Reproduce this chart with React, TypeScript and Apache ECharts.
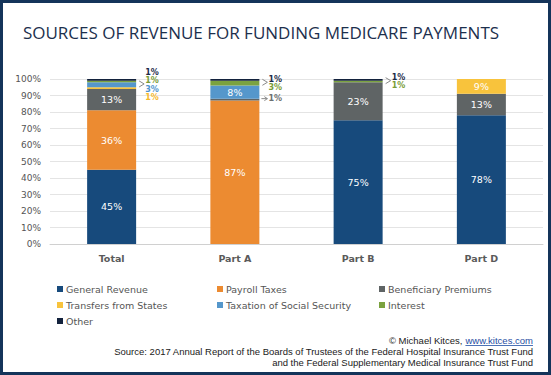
import React, { useEffect, useRef } from 'react';
import * as echarts from 'echarts';

const categories = ['Total', 'Part A', 'Part B', 'Part D'];
const seriesNames = [
  'General Revenue',
  'Payroll Taxes',
  'Beneficiary Premiums',
  'Transfers from States',
  'Taxation of Social Security',
  'Interest',
  'Other',
];
const generalRevenue = [45, 0, 75, 78];
const payrollTaxes = [36, 87, 0, 0];
const beneficiaryPremiums = [13, 1, 23, 13];
const transfersFromStates = [1, 0, 0, 9];
const taxationOfSocialSecurity = [3, 8, 0, 0];
const interest = [1, 3, 1, 0];
const other = [1, 1, 1, 0];
const seriesValues = [
  generalRevenue,
  payrollTaxes,
  beneficiaryPremiums,
  transfersFromStates,
  taxationOfSocialSecurity,
  interest,
  other,
];
const seriesColors = ['#174a7c', '#ec8b31', '#5f6465', '#f8c33c', '#5597cb', '#7ba23f', '#13223d'];
const calloutColors = ['#174a7c', '#ec8b31', '#6b6f70', '#f5b82a', '#4f95d0', '#7a9c36', '#1b2a48'];

const titleText = 'SOURCES OF REVENUE FOR FUNDING MEDICARE PAYMENTS';
const creditText = '© Michael Kitces,';
const creditLink = 'www.kitces.com';
const sourceLine1 = 'Source: 2017 Annual Report of the Boards of Trustees of the Federal Hospital Insurance Trust Fund';
const sourceLine2 = 'and the Federal Supplementary Medical Insurance Trust Fund';

const FONT = "'Open Sans', 'DejaVu Sans', sans-serif";
const WIDE = "'DejaVu Sans', 'Open Sans', sans-serif";
const FOOT = "'Liberation Sans', Arial, sans-serif";
const BAR_W = 49;
const SMALL = 5;

function measure(text: string, font: string): number {
  const c = document.createElement('canvas').getContext('2d');
  if (!c) return text.length * 5;
  c.font = font;
  return c.measureText(text).width;
}

export default function App() {
  const ref = useRef<HTMLDivElement>(null);
  useEffect(() => {
    if (!ref.current) return;
    const chart = echarts.init(ref.current, undefined, { renderer: 'svg' });
    const series = seriesNames.map((name, si) => ({
      name,
      type: 'bar',
      stack: 'all',
      barWidth: BAR_W,
      data: seriesValues[si],
      itemStyle: { color: seriesColors[si] },
      label: {
        show: true,
        position: 'inside',
        color: '#ffffff',
        fontFamily: WIDE,
        fontSize: 9.5,
        formatter: (p: any) => (p.value >= SMALL ? `${p.value}%` : ''),
      },
    }));
    const legendCols = [
      [seriesNames[0], seriesNames[3], seriesNames[6]],
      [seriesNames[1], seriesNames[4]],
      [seriesNames[2], seriesNames[5]],
    ];
    const legendLefts = [57, 217, 379];
    chart.setOption({
      animation: false,
      grid: { left: 50, right: 8, top: 79, bottom: 131 },
      xAxis: {
        type: 'category',
        data: categories,
        axisLine: { lineStyle: { color: '#d0d0d0' } },
        axisTick: { show: false },
        axisLabel: { color: '#5a5a5a', fontFamily: WIDE, fontWeight: 'bold', fontSize: 9.5, margin: 9 },
      },
      yAxis: {
        type: 'value',
        min: 0,
        max: 100,
        interval: 10,
        axisLabel: { color: '#555', fontFamily: WIDE, fontSize: 9, margin: 9, formatter: '{value}%' },
        splitLine: { lineStyle: { color: '#e4e4e4' } },
        axisLine: { show: false },
        axisTick: { show: false },
      },
      legend: legendCols.map((col, i) => ({
        data: col,
        left: legendLefts[i],
        top: 283,
        orient: 'vertical',
        padding: 0,
        itemGap: 4,
        itemWidth: 6,
        itemHeight: 6,
        icon: 'rect',
        selectedMode: false,
        textStyle: { color: '#555', fontFamily: WIDE, fontSize: 9.5, lineHeight: 12, padding: [0, 0, 0, -2] },
      })),
      series,
    });

    // Build callouts for small segments from data through the axes
    const g: any[] = [];
    categories.forEach((cat, ci) => {
      const segs: { si: number; lo: number; hi: number }[] = [];
      let cum = 0;
      seriesValues.forEach((vals, si) => {
        const v = vals[ci];
        if (v > 0) segs.push({ si, lo: cum, hi: cum + v });
        cum += v;
      });
      segs.reverse(); // top-down
      const groups: { si: number; lo: number; hi: number }[][] = [];
      let cur: any[] = [];
      segs.forEach((s) => {
        if (seriesValues[s.si][ci] < SMALL) cur.push(s);
        else {
          if (cur.length) groups.push(cur);
          cur = [];
        }
      });
      if (cur.length) groups.push(cur);
      groups.forEach((grp) => {
        const isTop = grp[0].hi === segs[0].hi;
        const mid = (grp[0].hi + grp[grp.length - 1].lo) / 2;
        const [cx, cy] = chart.convertToPixel({ gridIndex: 0 }, [ci, mid]) as number[];
        const right = cx + BAR_W / 2;
        const lineH = 8.5;
        const startY = cy - ((grp.length - 1) * lineH) / 2 + (isTop ? 1 : -1);
        grp.forEach((s, k) => {
          g.push({
            type: 'text',
            x: right + 9,
            y: startY + k * lineH,
            style: {
              text: `${seriesValues[s.si][ci]}%`,
              fill: calloutColors[s.si],
              font: `600 8px ${WIDE}`,
              textVerticalAlign: 'middle',
            },
          });
        });
        if (isTop) {
          g.push({
            type: 'polyline',
            shape: { points: [[right + 3, cy - 3], [right + 8, cy], [right + 3, cy + 3]] },
            style: { stroke: '#8a8a8a', lineWidth: 1, fill: 'none' },
          });
        } else {
          g.push({
            type: 'polyline',
            shape: { points: [[right + 2, cy - 1], [right + 8, cy - 1]] },
            style: { stroke: '#8a8a8a', lineWidth: 1 },
          });
          g.push({
            type: 'polyline',
            shape: { points: [[right + 5, cy - 3], [right + 8, cy - 1], [right + 5, cy + 1]] },
            style: { stroke: '#8a8a8a', lineWidth: 1, fill: 'none' },
          });
        }
      });
    });

    const footFont = `9.5px ${FOOT}`;
    const linkW = measure(creditLink, footFont);
    const footRight = 533;
    g.push(
      {
        type: 'rect',
        shape: { x: 1.5, y: 1.5, width: 548, height: 372 },
        style: { fill: 'none', stroke: '#14345a', lineWidth: 3 },
        silent: true,
      },
      {
        type: 'text',
        x: 261,
        y: 32,
        style: {
          text: titleText,
          fill: '#1c2f4d',
          font: `500 17px ${FONT}`,
          textAlign: 'center',
          textVerticalAlign: 'middle',
        },
      },
      {
        type: 'text',
        x: footRight,
        y: 340,
        style: {
          text: creditLink,
          fill: '#1f4ea3',
          font: footFont,
          lineHeight: 10,
          textAlign: 'right',
          textVerticalAlign: 'middle',
        },
      },
      {
        type: 'line',
        shape: { x1: footRight - linkW, y1: 345.5, x2: footRight, y2: 345.5 },
        style: { stroke: '#1f4ea3', lineWidth: 0.8 },
      },
      {
        type: 'text',
        x: footRight - linkW - 3,
        y: 340,
        style: {
          text: creditText,
          fill: '#1a1a1a',
          font: footFont,
          lineHeight: 10,
          textAlign: 'right',
          textVerticalAlign: 'middle',
        },
      },
      {
        type: 'text',
        x: footRight,
        y: 351.5,
        style: {
          text: sourceLine1,
          fill: '#1a1a1a',
          font: footFont,
          lineHeight: 10,
          textAlign: 'right',
          textVerticalAlign: 'middle',
        },
      },
      {
        type: 'text',
        x: footRight,
        y: 362.5,
        style: {
          text: sourceLine2,
          fill: '#1a1a1a',
          font: footFont,
          lineHeight: 10,
          textAlign: 'right',
          textVerticalAlign: 'middle',
        },
      }
    );
    chart.setOption({ graphic: g });
    return () => chart.dispose();
  }, []);
  return (
    <div
      ref={ref}
      style={{ position: 'fixed', left: 0, top: 0, width: 551, height: 375, background: '#ffffff' }}
    />
  );
}
